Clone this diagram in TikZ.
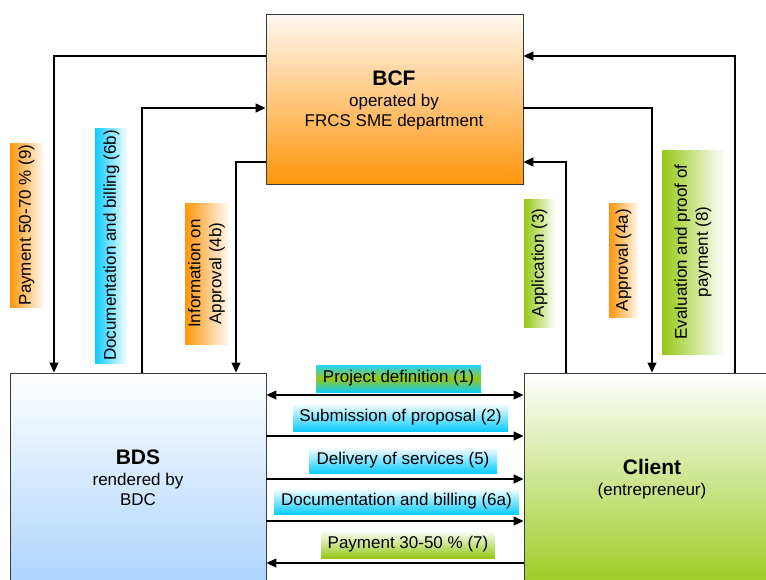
\documentclass[tikz,border=0pt]{standalone}
\usepackage{fontspec}
\setmainfont{Liberation Sans}
\usetikzlibrary{arrows.meta,calc}
\definecolor{orgC}{RGB}{255,150,12}
\definecolor{orgT}{RGB}{255,248,240}
\definecolor{cyanC}{RGB}{12,204,255}
\definecolor{bluL}{RGB}{150,200,252}
\definecolor{grnC}{RGB}{150,200,20}
\definecolor{grnT}{RGB}{252,254,250}
\definecolor{bordC}{RGB}{60,60,60}
\tikzset{
  bigbox/.style={draw=bordC, line width=0.9pt, rectangle, inner sep=0pt},
  lbl/.style={rectangle, inner sep=0pt, align=center, font=\fontsize{17}{21}\selectfont},
  vlbl/.style={lbl, rotate=90},
  olbl/.style={vlbl, left color=orgC, right color=orgT},
  blbl/.style={vlbl, left color=cyanC, right color=white},
  glbl/.style={vlbl, left color=grnC, right color=grnT},
  hblue/.style={lbl, top color=white, bottom color=cyanC},
  hgreen/.style={lbl, top color=grnT, bottom color=grnC},
  hmix/.style={lbl, top color=cyanC!90!white, bottom color=cyanC, middle color=grnC},
  conn/.style={draw=black, line width=1.3pt},
  arr/.style={conn, -{Triangle[length=10pt,width=9pt]}},
  darr/.style={conn, {Triangle[length=10pt,width=9pt]}-{Triangle[length=10pt,width=9pt]}},
  titletext/.style={align=center, font=\fontsize{17}{20}\selectfont, inner sep=0pt}
}
\begin{document}
\begin{tikzpicture}[x=1pt,y=-1pt]
\useasboundingbox (0,0) rectangle (766,579);
\clip (0,0) rectangle (766,579);

% main boxes
\node[bigbox, minimum width=257pt, minimum height=170pt, top color=orgT, bottom color=orgC] (bcf) at (394.5,99) {};
\node[bigbox, minimum width=256pt, minimum height=227pt, top color=white, bottom color=bluL!85!white] (bds) at (138,486.5) {};
\node[bigbox, minimum width=276pt, minimum height=227pt, top color=white, bottom color=grnC] (client) at (662,486.5) {};

% box texts
\node[titletext] (bcft) at (394,100) {{\fontsize{21}{24}\selectfont\bfseries BCF}\\[1pt]operated by\\FRCS SME department};
\node[titletext] (bdst) at (138,478) {{\fontsize{21}{24}\selectfont\bfseries BDS}\\[1pt]rendered by\\BDC};
\node[titletext] (clientt) at (652,479) {{\fontsize{21}{24}\selectfont\bfseries Client}\\[1pt](entrepreneur)};

% coordinates for elbows
\coordinate (p9) at (54,56);
\coordinate (p6b) at (142,108);
\coordinate (p4b) at (236,162);
\coordinate (p8) at (735,56);
\coordinate (p4a) at (652,108);
\coordinate (p3) at (566,162);

% left connectors
\draw[arr] (bcf.west |- p9) -- (p9) -- (bds.north -| p9);
\draw[arr] (bds.north -| p6b) -- (p6b) -- (bcf.west |- p6b);
\draw[arr] (bcf.west |- p4b) -- (p4b) -- (bds.north -| p4b);
% right connectors
\draw[arr] (client.north -| p8) -- (p8) -- (bcf.east |- p8);
\draw[arr] (bcf.east |- p4a) -- (p4a) -- (client.north -| p4a);
\draw[arr] (client.north -| p3) -- (p3) -- (bcf.east |- p3);

% horizontal connectors
\coordinate (h1) at (0,395);
\coordinate (h2) at (0,436);
\coordinate (h5) at (0,479);
\coordinate (h6) at (0,521);
\coordinate (h7) at (0,563);
\draw[darr] (bds.east |- h1) -- (client.west |- h1);
\draw[arr] (bds.east |- h2) -- (client.west |- h2);
\draw[arr] (bds.east |- h5) -- (client.west |- h5);
\draw[arr] (bds.east |- h6) -- (client.west |- h6);
\draw[arr] (client.west |- h7) -- (bds.east |- h7);

% vertical labels
\node[olbl, minimum width=164pt, minimum height=33pt] (l9) at (26.5,225) {Payment 50-70 \% (9)};
\node[blbl, minimum width=235pt, minimum height=33pt] (l6b) at (111.5,245.5) {Documentation and billing (6b)};
\node[olbl, minimum width=141pt, minimum height=43pt] (l4b) at (206.5,273.5) {Information on\\Approval (4b)};
\node[glbl, minimum width=128pt, minimum height=31pt] (l3) at (539.5,263) {Application (3)};
\node[olbl, minimum width=114pt, minimum height=29pt] (l4a) at (623.5,260) {Approval (4a)};
\node[glbl, minimum width=204pt, minimum height=62pt] (l8) at (693,252) {Evaluation and proof of\\payment (8)};

% horizontal labels
\node[hmix, minimum width=165pt, minimum height=27pt] (l1) at (398.5,378.5) {Project definition (1)};
\node[hblue, minimum width=215pt, minimum height=28pt] (l2) at (400.5,417) {Submission of proposal (2)};
\node[hblue, minimum width=188pt, minimum height=26pt] (l5) at (403,460) {Delivery of services (5)};
\node[hblue, minimum width=245pt, minimum height=26pt] (l6a) at (396.5,501) {Documentation and billing (6a)};
\node[hgreen, minimum width=174pt, minimum height=27pt] (l7) at (408,544.5) {Payment 30-50 \% (7)};
\end{tikzpicture}
\end{document}
